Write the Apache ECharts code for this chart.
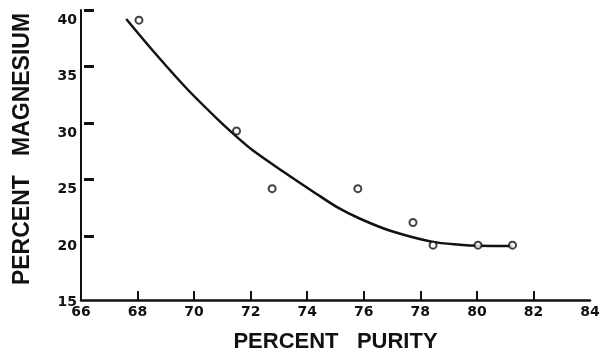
<!DOCTYPE html>
<html>
<head>
<meta charset="utf-8">
<script src="https://cdn.jsdelivr.net/npm/echarts@6/dist/echarts.min.js"></script>
<style>
  html, body { margin: 0; padding: 0; background: #fff; }
  #chart { width: 602px; height: 352px; }
</style>
</head>
<body>
<div id="chart"></div>
<script>
// Tick labels / marks
const xTickLabels = [66, 68, 70, 72, 74, 76, 78, 80, 82, 84];
const xTickMarks = [68, 70, 72, 74, 76, 78, 80, 82];
const yTickValues = [15, 20, 25, 30, 35, 40];

// Measured points (percent purity vs percent magnesium)
const purity = [68.05, 71.5, 72.76, 75.79, 77.74, 78.45, 80.04, 81.26];
const magnesium = [39.1, 29.3, 24.2, 24.2, 21.2, 19.2, 19.2, 19.2];

// Fitted curve
const fitPurity = [67.6, 68.52, 69.72, 70.89, 71.49, 72.06, 73.12, 74.33, 75.07, 75.85, 76.91, 78.44, 79.4, 80.03, 81.27];
const fitMagnesium = [39.2, 36.46, 33.1, 30.19, 28.82, 27.62, 25.76, 23.73, 22.54, 21.56, 20.5, 19.49, 19.24, 19.15, 19.13];

const pointData = purity.map((x, i) => [x, magnesium[i]]);
const fitData = fitPurity.map((x, i) => [x, fitMagnesium[i]]);

const chart = echarts.init(document.getElementById('chart'), null, { renderer: 'canvas' });
const tickFont = { fontFamily: 'DejaVu Sans', fontWeight: 'bold', fontSize: 14, color: '#111' };

chart.setOption({
  animation: false,
  backgroundColor: '#fff',
  grid: { left: 81, right: 12, top: 10, bottom: 52, containLabel: false, outerBoundsMode: 'none' },
  xAxis: {
    type: 'value',
    min: 66,
    max: 84,
    name: 'PERCENT   PURITY',
    nameLocation: 'middle',
    nameGap: 31,
    nameTextStyle: { fontFamily: 'Liberation Sans', fontWeight: 'bold', fontSize: 22, color: '#111' },
    axisLine: { show: true, lineStyle: { color: '#111', width: 2.5 } },
    axisTick: { show: true, inside: true, length: 9, customValues: xTickMarks, lineStyle: { color: '#111', width: 2 } },
    axisLabel: Object.assign({ margin: 5, customValues: xTickLabels, formatter: v => String(v) }, tickFont),
    splitLine: { show: false }
  },
  yAxis: [
    {
      type: 'value',
      min: 14.35,
      max: 40,
      name: 'PERCENT   MAGNESIUM',
      nameLocation: 'middle',
      nameGap: 47,
      nameTextStyle: { fontFamily: 'Liberation Sans', fontWeight: 'bold', fontSize: 23, color: '#111', padding: [0, 0, 0, 12] },
      axisLine: { show: true, lineStyle: { color: '#111', width: 2 } },
      axisTick: { show: false },
      axisLabel: Object.assign({ margin: 4, customValues: yTickValues, verticalAlign: 'top', lineHeight: 20, formatter: v => String(v) }, tickFont),
      splitLine: { show: false }
    },
    {
      type: 'value',
      position: 'left',
      min: 14.35,
      max: 40,
      offset: -3,
      axisLine: { show: false },
      axisTick: { show: true, inside: true, length: 10, customValues: [20, 25, 30, 35, 40], lineStyle: { color: '#111', width: 3 } },
      axisLabel: { show: false },
      splitLine: { show: false }
    }
  ],
  series: [
    {
      type: 'line',
      data: fitData,
      smooth: 0.3,
      showSymbol: false,
      symbol: 'none',
      lineStyle: { color: '#111', width: 2.5 },
      z: 2
    },
    {
      type: 'scatter',
      data: pointData,
      symbol: 'circle',
      symbolSize: 7,
      itemStyle: { color: '#fff', borderColor: '#111', borderWidth: 2 },
      z: 3
    }
  ]
});
</script>
</body>
</html>
